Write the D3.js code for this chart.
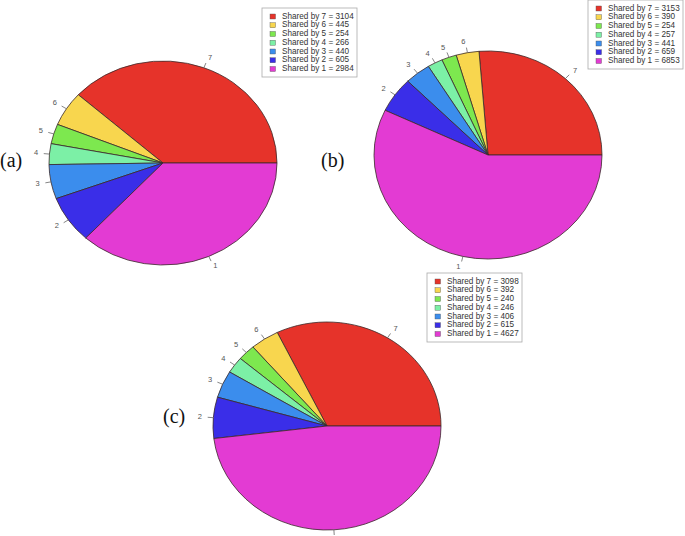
<!DOCTYPE html>
<html><head><meta charset="utf-8">
<script src="https://cdn.jsdelivr.net/npm/d3@7"></script>
<style>body{margin:0;background:#fff;} svg{display:block;}</style>
</head><body>
<script>
const categories = ["7","6","5","4","3","2","1"];
const colors = ["#e6332a","#f8d64e","#7de84f","#7cf0a6","#3b8ded","#3a2ee8","#e33bd3"];
const valuesA = [3104,445,254,266,440,605,2984];
const valuesB = [3153,390,254,257,441,659,6853];
const valuesC = [3098,392,240,246,406,615,4627];
const panelLabels = ["(a)","(b)","(c)"];

const W=685,H=536;
const svg=d3.select("body").append("svg").attr("width",W).attr("height",H);

const panels=[
 {values:valuesA,cx:163,cy:163,rx:114,ry:102,leg:{x:262,y:8},lab:{x:0,y:162}},
 {values:valuesB,cx:488,cy:155,rx:114,ry:104,leg:{x:588,y:0},lab:{x:321,y:162}},
 {values:valuesC,cx:327,cy:426,rx:114,ry:104,leg:{x:427,y:273},lab:{x:163,y:418}}
];

panels.forEach((p,pi)=>{
  const data=categories.map((c,i)=>({cat:c,value:p.values[i],color:colors[i]}));
  const pie=d3.pie().sort(null).value(d=>d.value).startAngle(Math.PI/2).endAngle(Math.PI/2-2*Math.PI);
  const arcs=pie(data);
  const g=svg.append("g").attr("transform",`translate(${p.cx},${p.cy})`);
  const sy=p.ry/p.rx;
  const arc=d3.arc().innerRadius(0).outerRadius(p.rx);
  g.append("g").attr("transform",`scale(1,${sy})`).selectAll("path").data(arcs).join("path")
    .attr("d",arc).attr("fill",d=>d.data.color).attr("stroke","#3a2a2a").attr("stroke-width",0.8)
    .attr("vector-effect","non-scaling-stroke");
  arcs.forEach(a=>{
    const m=(a.startAngle+a.endAngle)/2;
    const ux=Math.sin(m), uy=-Math.cos(m);
    g.append("line").attr("x1",ux*p.rx).attr("y1",uy*p.ry).attr("x2",ux*p.rx*1.05).attr("y2",uy*p.ry*1.05)
      .attr("stroke","#666").attr("stroke-width",0.8);
    g.append("text").attr("x",ux*p.rx*1.1).attr("y",uy*p.ry*1.1)
      .attr("text-anchor",ux>0.05?"start":(ux<-0.05?"end":"middle"))
      .attr("dominant-baseline","middle")
      .attr("font-family","Liberation Sans, Arial, sans-serif").attr("font-size",7.5).attr("fill","#555")
      .text(a.data.cat);
  });
  // legend
  const lg=svg.append("g").attr("transform",`translate(${p.leg.x},${p.leg.y})`);
  lg.append("rect").attr("x",0).attr("y",0).attr("width",95).attr("height",69)
    .attr("fill","#fff").attr("stroke","#aaa").attr("stroke-width",0.8);
  data.forEach((d,i)=>{
    const yy=8.5+i*8.75;
    lg.append("rect").attr("x",8).attr("y",yy-2.5).attr("width",5.5).attr("height",5)
      .attr("fill",d.color).attr("stroke","#555").attr("stroke-width",0.4);
    lg.append("text").attr("x",20).attr("y",yy).attr("dominant-baseline","middle")
      .attr("font-family","Liberation Sans, Arial, sans-serif").attr("font-size",8.2).attr("fill","#333")
      .text(`Shared by ${d.cat} = ${d.value}`);
  });
  svg.append("text").attr("x",p.lab.x).attr("y",p.lab.y).attr("dominant-baseline","middle")
    .attr("font-family","Liberation Serif, Times New Roman, serif").attr("font-size",20).attr("fill","#111")
    .text(panelLabels[pi]);
});
</script>
</body></html>
